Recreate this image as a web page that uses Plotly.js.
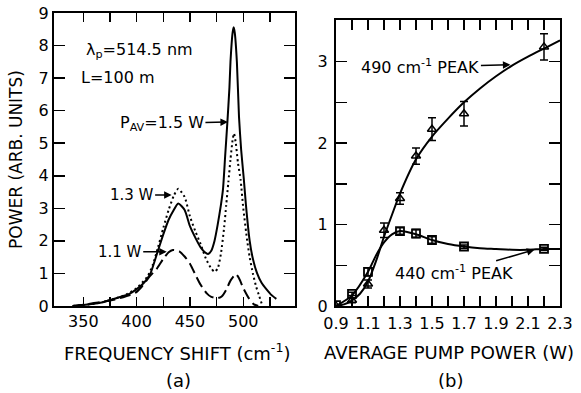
<!DOCTYPE html>
<html>
<head>
<meta charset="utf-8">
<script src="https://cdn.plot.ly/plotly-3.0.1.min.js"></script>
<style>html,body{margin:0;padding:0;background:#fff;}#chart{width:581px;height:393px;}</style>
</head>
<body>
<div id="chart"></div>
<script>
// ---------- Panel (a): spectra ----------
const shift15 = [340, 350, 360, 370, 375, 380, 390, 394, 400, 405, 410, 413, 420, 425, 430, 434, 439, 445, 450, 455, 460, 464, 467, 470, 473, 476, 479, 481, 483, 485, 487, 488, 490, 491, 492, 494, 496, 498, 500.5, 502.5, 506, 509, 513, 517, 522, 526, 531];
const power15 = [0, 0.03, 0.07, 0.13, 0.18, 0.23, 0.33, 0.39, 0.52, 0.65, 0.84, 1.0, 1.7, 2.2, 2.65, 2.9, 3.15, 2.95, 2.45, 2.1, 1.8, 1.65, 1.6, 1.7, 2.0, 2.5, 3.1, 3.6, 4.6, 5.6, 6.7, 7.5, 8.4, 8.56, 8.4, 7.5, 5.8, 4.8, 3.9, 3.1, 2.0, 1.45, 1.0, 0.72, 0.5, 0.35, 0.22];

const shift13 = [340, 350, 360, 370, 380, 390, 400, 410, 415, 420, 425, 430, 435, 439, 445, 450, 455, 460, 465, 470, 473, 476, 479, 482, 484, 486, 488, 490, 491.3, 493, 495, 497.5, 500, 503.7, 506, 509, 512, 515, 518];
const power13 = [0, 0.03, 0.07, 0.13, 0.23, 0.35, 0.55, 0.9, 1.25, 1.8, 2.4, 2.95, 3.4, 3.6, 3.35, 2.75, 2.3, 1.9, 1.45, 1.15, 1.05, 1.15, 1.6, 2.4, 3.1, 3.8, 4.5, 5.1, 5.3, 5.0, 4.4, 3.87, 3.0, 2.0, 1.5, 1.0, 0.6, 0.3, 0];

const shift11 = [340, 347, 350, 360, 368, 380, 390, 398.5, 405, 412, 419, 425, 430, 434, 440, 445, 450, 456, 460, 466, 470, 476, 480, 484, 488, 493, 496, 500, 505, 510, 514];
const power11 = [0, 0.03, 0.04, 0.09, 0.13, 0.2, 0.3, 0.4, 0.6, 0.9, 1.15, 1.45, 1.65, 1.72, 1.68, 1.52, 1.3, 0.9, 0.65, 0.38, 0.28, 0.24, 0.3, 0.5, 0.78, 0.98, 0.85, 0.55, 0.25, 0.05, 0];

const shiftTicks = [350, 400, 450, 500];
const shiftMinorTicks = [375, 425, 475, 525];
const powerTicks = [0, 1, 2, 3, 4, 5, 6, 7, 8, 9];

// ---------- Panel (b): peak power vs pump power ----------
const pump490 = [0.9, 1.0, 1.1, 1.2, 1.3, 1.4, 1.5, 1.7, 2.2];
const peak490 = [0.0, 0.07, 0.27, 0.93, 1.32, 1.84, 2.17, 2.36, 3.18];
const err490 = [0, 0.03, 0.05, 0.09, 0.07, 0.1, 0.14, 0.15, 0.16];

const pump440 = [0.9, 1.0, 1.1, 1.3, 1.4, 1.5, 1.7, 2.2];
const peak440 = [0.01, 0.15, 0.42, 0.92, 0.89, 0.81, 0.73, 0.70];
const err440 = [0, 0.02, 0.05, 0.04, 0.05, 0.04, 0.02, 0.02];

const fitX490 = [0.9, 0.95, 1.0, 1.05, 1.1, 1.15, 1.2, 1.25, 1.3, 1.4, 1.5, 1.6, 1.7, 1.8, 1.9, 2.0, 2.1, 2.2, 2.3];
const fitY490 = [0, 0.02, 0.07, 0.15, 0.3, 0.55, 0.85, 1.12, 1.38, 1.8, 2.08, 2.3, 2.5, 2.67, 2.82, 2.95, 3.06, 3.16, 3.26];

const fitX440 = [0.9, 1.0, 1.1, 1.15, 1.2, 1.25, 1.3, 1.4, 1.5, 1.6, 1.7, 1.8, 1.9, 2.0, 2.1, 2.2, 2.3];
const fitY440 = [0, 0.13, 0.42, 0.62, 0.78, 0.88, 0.92, 0.88, 0.81, 0.76, 0.73, 0.71, 0.70, 0.69, 0.69, 0.70, 0.70];

const pumpTicks = [0.9, 1.1, 1.3, 1.5, 1.7, 1.9, 2.1, 2.3];
const pumpTickText = ['0.9', '1.1', '1.3', '1.5', '1.7', '1.9', '2.1', '2.3'];
const pumpMinorTicks = [1.0, 1.2, 1.4, 1.6, 1.8, 2.0, 2.2];
const peakTicks = [0, 1, 2, 3];
const peakMinorTicks = [0.5, 1.5, 2.5];

const W = 581, H = 393;
const px = v => v / W;
const py = v => 1 - v / H;
const FONT = 'DejaVu Sans';
const blk = '#000';

const traces = [
  {x: shift15, y: power15, mode: 'lines', line: {color: blk, width: 2, shape: 'spline', smoothing: 0.6}, xaxis: 'x', yaxis: 'y'},
  {x: shift13, y: power13, mode: 'lines', line: {color: blk, width: 2, dash: '2px,3px', shape: 'spline', smoothing: 0.6}, xaxis: 'x', yaxis: 'y'},
  {x: shift11, y: power11, mode: 'lines', line: {color: blk, width: 2, dash: '11px,5px', shape: 'spline', smoothing: 0.6}, xaxis: 'x', yaxis: 'y'},
  {x: fitX490, y: fitY490, mode: 'lines', line: {color: blk, width: 2, shape: 'spline', smoothing: 0.8}, xaxis: 'x2', yaxis: 'y2'},
  {x: fitX440, y: fitY440, mode: 'lines', line: {color: blk, width: 2, shape: 'spline', smoothing: 0.8}, xaxis: 'x2', yaxis: 'y2'},
  {x: pump490, y: peak490, mode: 'markers', marker: {symbol: 'triangle-up-open', size: 8, color: blk, line: {width: 1.5, color: blk}},
   error_y: {type: 'data', array: err490, visible: true, color: blk, thickness: 1.5, width: 4}, xaxis: 'x2', yaxis: 'y2'},
  {x: pump440, y: peak440, mode: 'markers', marker: {symbol: 'square-open', size: 8, color: blk, line: {width: 1.8, color: blk}},
   error_y: {type: 'data', array: err440, visible: true, color: blk, thickness: 1.5, width: 4}, xaxis: 'x2', yaxis: 'y2'}
];

const axisCommon = {
  showline: true, linecolor: blk, linewidth: 2, mirror: 'ticks', ticks: 'inside', tickcolor: blk,
  tickwidth: 1.5, showgrid: false, zeroline: false, tickfont: {family: FONT, size: 16, color: blk}, fixedrange: true
};
function minor(vals, len) {
  return {tickmode: 'array', tickvals: vals, ticks: 'inside', ticklen: len, tickwidth: 1.5, tickcolor: blk, showgrid: false};
}

const annFont = {family: FONT, size: 15, color: blk};
const annFontB = {family: FONT, size: 16, color: blk};
function lbl(text, x, y, extra) {
  return Object.assign({text: text, xref: 'paper', yref: 'paper', x: px(x), y: py(y), xanchor: 'center', yanchor: 'middle', showarrow: false, font: {family: FONT, size: 18, color: blk}}, extra || {});
}
function arr(text, xr, yr, x, y, ax, ay, f) {
  return {text: text, xref: xr, yref: yr, x: x, y: y, ax: ax, ay: ay, showarrow: true, arrowhead: 2, arrowsize: 1, arrowwidth: 1.5, arrowcolor: blk, font: f || annFont, standoff: 0};
}

const layout = {
  width: W, height: H, margin: {l: 0, r: 0, t: 0, b: 0}, paper_bgcolor: '#fff', plot_bgcolor: '#fff', showlegend: false,
  xaxis: Object.assign({}, axisCommon, {domain: [px(54), px(295)], range: [322.5, 548.5], tickmode: 'array', tickvals: shiftTicks, ticklen: 9, minor: minor(shiftMinorTicks, 9), anchor: 'y'}),
  yaxis: Object.assign({}, axisCommon, {domain: [py(306), py(13)], range: [0, 9], tickmode: 'array', tickvals: powerTicks, ticklen: 11, anchor: 'x'}),
  xaxis2: Object.assign({}, axisCommon, {domain: [px(336), px(560)], range: [0.9, 2.3], tickmode: 'array', tickvals: pumpTicks, ticktext: pumpTickText, ticklen: 10, minor: minor(pumpMinorTicks, 10), ticklabelstandoff: 2, anchor: 'y2'}),
  yaxis2: Object.assign({}, axisCommon, {domain: [py(306), py(20)], range: [0, 3.51], tickmode: 'array', tickvals: peakTicks, ticklen: 11, minor: minor(peakMinorTicks, 11), ticklabelstandoff: 3, anchor: 'x2'}),
  annotations: [
    lbl('FREQUENCY SHIFT (cm<sup>-1</sup>)', 177, 352),
    lbl('(a)', 178, 380),
    lbl('AVERAGE PUMP POWER (W)', 449, 352),
    lbl('(b)', 450, 380),
    lbl('POWER (ARB. UNITS)', 16, 160, {textangle: -90, font: {family: FONT, size: 17, color: blk}}),
    lbl('λ<sub>p</sub>=514.5 nm', 139, 50, {font: annFontB}),
    lbl('L=100 m', 118, 77, {font: annFontB}),
    arr('P<sub>AV</sub>=1.5 W', 'x', 'y', 485.6, 5.65, -66, 1, annFontB),
    arr('1.3 W', 'x', 'y', 432.8, 3.41, -40, 0),
    arr('1.1 W', 'x', 'y', 428.2, 1.67, -47, 0),
    arr('490 cm<sup>-1</sup> PEAK', 'x2', 'y2', 1.99, 2.96, -90, 2, annFontB),
    arr('440 cm<sup>-1</sup> PEAK', 'x2', 'y2', 2.14, 0.69, -80, 23, annFontB)
  ]
};

Plotly.newPlot('chart', traces, layout, {displayModeBar: false, staticPlot: true});
</script>
</body>
</html>
